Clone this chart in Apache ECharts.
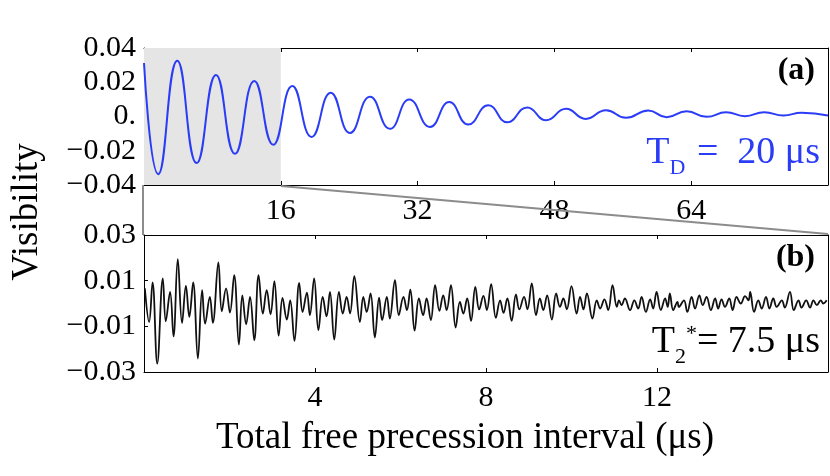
<!DOCTYPE html>
<html style="height: 100%">
<head>
<meta charset="utf-8">
<title>Visibility</title>
<style>
  html, body { margin: 0; padding: 0; background: #fff; }
  #chart { width: 830px; height: 476px; }
</style>
</head>
<body>
<div id="chart"></div>
<script src="https://cdn.jsdelivr.net/npm/echarts@6/dist/echarts.min.js"></script>
<script>
// (a) peaks / troughs of the blue trace
var topTime = [0, 1.67, 3.89, 6.16, 8.42, 10.64, 12.9, 15.12, 17.35, 19.61, 21.84, 24.09, 26.43, 28.77,
  31.03, 33.45, 35.71, 37.93, 40.27, 42.49, 44.83, 47.02, 49.36, 51.66, 54.04, 56.37, 58.98, 61.13,
  63.47, 65.81, 68.07, 70.29, 72.55, 74.77, 76.92, 80];
var topVis = [0.0312, -0.0337, 0.0325, -0.0272, 0.0243, -0.0218, 0.0208, -0.0165, 0.0178, -0.0119, 0.0139, -0.0096, 0.0116, -0.0072,
  0.0100, -0.0061, 0.0084, -0.0047, 0.0066, -0.0034, 0.0053, -0.0022, 0.0045, -0.0014, 0.0037, -0.0008, 0.0035, -0.0004,
  0.0031, -0.0002, 0.0025, 0.0002, 0.0025, 0.0006, 0.0022, 0.0006];

// (b) the black trace
var botTime = [0.02, 0.12, 0.20, 0.31, 0.44, 0.51, 0.61, 0.69, 0.79, 0.89, 0.98, 1.06, 1.15, 1.26, 1.36, 1.43, 1.54, 1.61,
  1.74, 1.82, 1.92, 2.01, 2.11, 2.22, 2.30, 2.39, 2.48, 2.58, 2.68, 2.78, 2.87, 2.96, 3.05, 3.15, 3.24, 3.34, 3.42, 3.52,
  3.63, 3.71, 3.81, 3.88, 3.98, 4.08, 4.18, 4.27, 4.35, 4.45, 4.56, 4.65, 4.74, 4.82, 4.92, 5.05, 5.13, 5.21, 5.30, 5.40,
  5.50, 5.57, 5.68, 5.75, 5.87, 5.96, 6.07, 6.15, 6.23, 6.33, 6.43, 6.53, 6.61, 6.71, 6.81, 6.91, 7.00, 7.08, 7.18, 7.29,
  7.39, 7.47, 7.56, 7.65, 7.75, 7.84, 7.94, 8.02, 8.12, 8.23, 8.33, 8.41, 8.50, 8.60, 8.70, 8.78, 8.89, 8.97, 9.07, 9.17,
  9.26, 9.34, 9.43, 9.54, 9.64, 9.73, 9.81, 9.89, 10.00, 10.12, 10.20, 10.28, 10.36, 10.49, 10.59, 10.67, 10.77, 10.86,
  10.96, 11.06, 11.11, 11.17, 11.25, 11.37, 11.47, 11.56, 11.64, 11.74, 11.84, 11.91, 11.99, 12.09, 12.19, 12.25, 12.30,
  12.38, 12.48, 12.51, 12.63, 12.71, 12.81, 12.89, 12.99, 13.07, 13.16, 13.26, 13.36, 13.43, 13.51, 13.59, 13.69, 13.77,
  13.86, 13.96, 14.06, 14.14, 14.18, 14.27, 14.37, 14.45, 14.55, 14.63, 14.72, 14.80, 14.92, 14.99, 15.11, 15.20, 15.31,
  15.38, 15.49, 15.58, 15.66, 15.74, 15.83, 15.89, 15.97];
var botVis = [0.0066, -0.0081, 0.0092, -0.0263, 0.0110, -0.0078, 0.0051, -0.0144, 0.0194, -0.0085, 0.0077, -0.0059, 0.0092, -0.0241, 0.0058, -0.0088, 0.0029, -0.0085,
  0.0180, -0.0034, 0.0066, -0.0040, 0.0124, -0.0180, 0.0036, -0.0091, 0.0029, -0.0161, 0.0124, -0.0044, 0.0058, -0.0047, 0.0098, -0.0141, 0.0025, -0.0070, 0.0014, -0.0164,
  0.0090, -0.0037, 0.0047, -0.0051, 0.0110, -0.0117, 0.0029, -0.0056, 0.0051, -0.0158, 0.0051, -0.0044, 0.0029, -0.0044, 0.0120, -0.0081, 0.0029, -0.0037, 0.0044, -0.0149,
  0.0026, -0.0073, 0.0029, -0.0066, 0.0102, -0.0051, 0.0029, -0.0029, 0.0061, -0.0119, 0.0022, -0.0051, 0.0022, -0.0073, 0.0080, -0.0032, 0.0036, -0.0029, 0.0080, -0.0105,
  0.0007, -0.0044, 0.0022, -0.0076, 0.0073, -0.0026, 0.0033, -0.0029, 0.0085, -0.0063, 0.0014, -0.0041, 0.0022, -0.0076, 0.0040, -0.0026, 0.0029, -0.0026, 0.0088, -0.0051,
  0.0022, -0.0029, 0.0036, -0.0070, 0.0044, -0.0015, 0.0022, -0.0026, 0.0076, -0.0044, 0.0029, -0.0026, 0.0044, -0.0066, 0.0014, -0.0022, 0.0018, -0.0029,
  0.0080, -0.0015, 0.0014, -0.0007, 0.0022, -0.0029, 0.0014, -0.0022, 0.0029, -0.0037, 0.0018, -0.0022, 0.0051, -0.0029, 0.0022, -0.0015, 0.0044,
  -0.0029, 0.0007, -0.0015, 0.0014, -0.0037, 0.0029, -0.0022, 0.0036, -0.0007, 0.0029, -0.0029, 0.0022, -0.0022, 0.0018, -0.0015, 0.0022, -0.0029,
  0.0029, 0.0000, 0.0032, 0.0014, 0.0051, -0.0037, 0.0014, -0.0022, 0.0029, -0.0022, 0.0022, -0.0015, 0.0014, -0.0018, 0.0051, -0.0029, 0.0014,
  -0.0018, 0.0014, -0.0018, 0.0014, -0.0007, 0.0014, 0.0000, 0.0014];

// tick values and their labels
var topXTicks = [16, 32, 48, 64];
var topYTicks = [-0.04, -0.02, 0, 0.02, 0.04];
var topYLabels = ['\u22120.04', '\u22120.02', '0.', '0.02', '0.04'];
var botXTicks = [4, 8, 12];
var botYTicks = [-0.03, -0.01, 0.01, 0.03];
var botYLabels = ['\u22120.03', '\u22120.01', '0.01', '0.03'];
var zoomRange = [0, 16];

var FONT = 'Liberation Serif';

function pairs(xs, ys) {
  var out = [];
  for (var i = 0; i < xs.length; i++) out.push([xs[i], ys[i]]);
  return out;
}
function labelFor(ticks, labels) {
  return function (v) {
    for (var i = 0; i < ticks.length; i++) {
      if (Math.abs(ticks[i] - v) < 1e-9) return labels[i];
    }
    return '';
  };
}

function xAx(grid, min, max, ticks, pos) {
  return {
    type: 'value', gridIndex: grid, min: min, max: max, position: pos,
    axisLine: { show: true, onZero: false, lineStyle: { color: '#000', width: 1 } },
    axisTick: { show: true, inside: true, length: 4, customValues: ticks, lineStyle: { color: '#000' } },
    axisLabel: { show: pos === 'bottom', customValues: ticks, color: '#000', fontFamily: FONT, fontSize: 30, margin: 11 },
    splitLine: { show: false }
  };
}
function yAx(grid, min, max, ticks, labels, pos) {
  return {
    type: 'value', gridIndex: grid, min: min, max: max, position: pos,
    axisLine: { show: true, onZero: false, lineStyle: { color: '#000', width: 1 } },
    axisTick: { show: pos === 'left', inside: true, length: 4, customValues: ticks, lineStyle: { color: '#000' } },
    axisLabel: { show: pos === 'left', customValues: ticks, formatter: labelFor(ticks, labels), color: '#000', fontFamily: FONT, fontSize: 30, margin: 8 },
    splitLine: { show: false }
  };
}

var myChart = echarts.init(document.getElementById('chart'));
var option = {
  animation: false,
  grid: [
    { left: 144, top: 48, width: 684, height: 137 },
    { left: 144, top: 235, width: 684, height: 137 }
  ],
  xAxis: [
    xAx(0, 0, 80, topXTicks, 'bottom'),
    xAx(0, 0, 80, topXTicks, 'top'),
    xAx(1, 0, 16, botXTicks, 'bottom'),
    xAx(1, 0, 16, botXTicks, 'top')
  ],
  yAxis: [
    yAx(0, -0.04, 0.04, topYTicks, topYLabels, 'left'),
    yAx(0, -0.04, 0.04, topYTicks, topYLabels, 'right'),
    yAx(1, -0.03, 0.03, botYTicks, botYLabels, 'left'),
    yAx(1, -0.03, 0.03, botYTicks, botYLabels, 'right')
  ],
  series: [
    {
      name: 'a', type: 'line', xAxisIndex: 0, yAxisIndex: 0,
      data: pairs(topTime, topVis), smooth: 0.5, symbol: 'none',
      lineStyle: { color: '#2a3cf6', width: 2 },
      markArea: {
        silent: true,
        itemStyle: { color: '#e5e5e5' },
        data: [[{ xAxis: zoomRange[0] }, { xAxis: zoomRange[1] }]]
      },
      z: 3
    },
    {
      name: 'b', type: 'line', xAxisIndex: 2, yAxisIndex: 2,
      data: pairs(botTime, botVis), smooth: 0.4, symbol: 'none',
      lineStyle: { color: '#111', width: 1.8 }
    }
  ]
};
myChart.setOption(option);

// zoom connectors and annotations
var pA0 = myChart.convertToPixel({ xAxisIndex: 0, yAxisIndex: 0 }, [zoomRange[0], -0.04]);
var pA1 = myChart.convertToPixel({ xAxisIndex: 0, yAxisIndex: 0 }, [zoomRange[1], -0.04]);
var pB0 = myChart.convertToPixel({ xAxisIndex: 2, yAxisIndex: 2 }, [0, 0.03]);
var pB1 = myChart.convertToPixel({ xAxisIndex: 2, yAxisIndex: 2 }, [16, 0.03]);

myChart.setOption({
  graphic: [
    { type: 'line', shape: { x1: pA0[0] - 1, y1: pA0[1], x2: pB0[0] - 1, y2: pB0[1] }, style: { stroke: '#8c8c8c', lineWidth: 2 }, z: 1 },
    { type: 'line', shape: { x1: pA1[0], y1: pA1[1] + 1, x2: pB1[0], y2: pB1[1] - 1 }, style: { stroke: '#8c8c8c', lineWidth: 2 }, z: 1 },
    { type: 'text', right: 15, top: 55, style: { text: '(a)', font: 'bold 32px "Liberation Serif"', fill: '#000' } },
    { type: 'text', right: 15, top: 242, style: { text: '(b)', font: 'bold 32px "Liberation Serif"', fill: '#000' } },
    {
      type: 'text', right: 10, top: 134,
      style: {
        text: '{m|T}{s|D}{m| =  20 \u03bcs}',
        fill: '#2a3cf6',
        rich: {
          m: { fontFamily: FONT, fontSize: 38, fill: '#2a3cf6', verticalAlign: 'bottom' },
          s: { fontFamily: FONT, fontSize: 22, fill: '#2a3cf6', verticalAlign: 'bottom', padding: [0, 2, -7, 0] }
        }
      }
    },
    {
      type: 'text', right: 10, top: 323,
      style: {
        text: '{m|T}{s|2}{p|*}{m|= 7.5 \u03bcs}',
        fill: '#000',
        rich: {
          m: { fontFamily: FONT, fontSize: 38, fill: '#000', verticalAlign: 'bottom' },
          s: { fontFamily: FONT, fontSize: 22, fill: '#000', verticalAlign: 'bottom', padding: [0, 0, -7, 0] },
          p: { fontFamily: FONT, fontSize: 22, fill: '#000', verticalAlign: 'top' }
        }
      }
    },
    {
      type: 'text', x: 27, y: 212, rotation: Math.PI / 2,
      style: { text: 'Visibility', font: '37px "Liberation Serif"', fill: '#000', align: 'center', verticalAlign: 'middle' }
    },
    {
      type: 'text', x: 465, y: 438,
      style: { text: 'Total free precession interval (\u03bcs)', font: '37px "Liberation Serif"', fill: '#000', align: 'center', verticalAlign: 'middle' }
    }
  ]
});
</script>
</body>
</html>
